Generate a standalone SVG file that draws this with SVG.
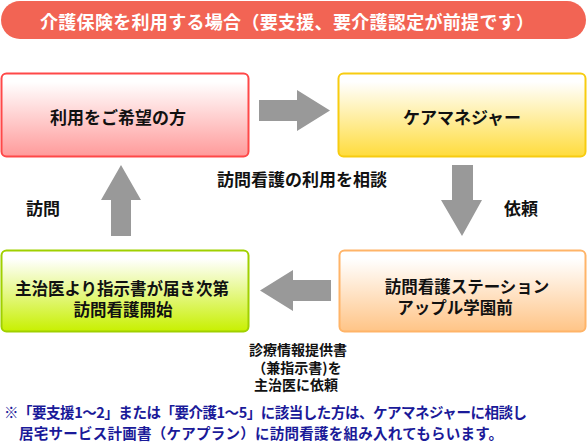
<svg xmlns="http://www.w3.org/2000/svg" width="588" height="444" viewBox="0 0 588 444">
<defs>
<linearGradient id="gPink" x1="0" y1="0" x2="0" y2="1"><stop offset="0.1" stop-color="#ffffff"/><stop offset="1" stop-color="#ff9a9a"/></linearGradient>
<linearGradient id="gYellow" x1="0" y1="0" x2="0" y2="1"><stop offset="0.1" stop-color="#ffffff"/><stop offset="1" stop-color="#ffdc3c"/></linearGradient>
<linearGradient id="gGreen" x1="0" y1="0" x2="0" y2="1"><stop offset="0.1" stop-color="#ffffff"/><stop offset="1" stop-color="#c8f000"/></linearGradient>
<linearGradient id="gOrange" x1="0" y1="0" x2="0" y2="1"><stop offset="0.1" stop-color="#ffffff"/><stop offset="1" stop-color="#ffc486"/></linearGradient>
</defs>
<style>
text{font-family:"Noto Sans CJK JP","Noto Sans CJK SC",sans-serif;font-weight:bold;dominant-baseline:central}
.t{fill:#111111;font-size:17px;text-anchor:middle}
.t2{fill:#111111;font-size:16.5px;text-anchor:middle}
.lbl{fill:#111111;font-size:17px;text-anchor:middle}
.small{fill:#111111;font-size:14px;text-anchor:middle}
.note{fill:#1a1a99;font-size:14.5px}
.arrow{fill:#999999}
.box{stroke-width:2}
</style>
<g id="title">
<rect x="1" y="1" width="585" height="38" rx="19" fill="#f26454"/>
<text x="287" y="21" fill="#ffffff" font-size="18" text-anchor="middle" textLength="494" lengthAdjust="spacing">介護保険を利用する場合（要支援、要介護認定が前提です）</text>
</g>
<g id="node-user">
<rect class="box" x="1.5" y="73.5" width="247" height="83" rx="5" fill="url(#gPink)" stroke="#ff4848"/>
<text class="t" x="118" y="116">利用をご希望の方</text>
</g>
<g id="node-caremanager">
<rect class="box" x="338.5" y="73.5" width="247" height="83" rx="5" fill="url(#gYellow)" stroke="#f7cc10"/>
<text class="t" x="462" y="116">ケアマネジャー</text>
</g>
<g id="node-station">
<rect class="box" x="339.5" y="250.5" width="246" height="81" rx="5" fill="url(#gOrange)" stroke="#ffb468"/>
<text class="t2" x="467" y="286">訪問看護ステーション</text>
<text class="t2" x="455" y="307">アップル学園前</text>
</g>
<g id="node-doctor">
<rect class="box" x="1.5" y="250.5" width="247" height="81" rx="5" fill="url(#gGreen)" stroke="#a0d000"/>
<text class="t2" x="122" y="288">主治医より指示書が届き次第</text>
<text class="t2" x="123" y="309">訪問看護開始</text>
</g>
<g id="connectors">
<polygon class="arrow" points="259,100 297,100 297,90 330,110.5 297,131 297,121 259,121"/>
<polygon class="arrow" points="452,165 473,165 473,200 482,200 462,236 441,200 452,200"/>
<polygon class="arrow" points="331,280 293,280 293,270 260,290.5 293,311 293,301 331,301"/>
<polygon class="arrow" points="111,236 131,236 131,200 141,200 121,165 101,200 111,200"/>
<text class="lbl" x="302" y="178">訪問看護の利用を相談</text>
<text class="lbl" x="43" y="207">訪問</text>
<text class="lbl" x="521" y="207">依頼</text>
<text class="small" x="298" y="349">診療情報提供書</text>
<text class="small" x="297" y="366.5">（兼指示書)を</text>
<text class="small" x="296" y="384">主治医に依頼</text>
</g>
<g id="footnote">
<text class="note" x="4" y="411" textLength="523" lengthAdjust="spacing">※「要支援1～2」または「要介護1～5」に該当した方は、ケアマネジャーに相談し</text>
<text class="note" x="19" y="432" textLength="484" lengthAdjust="spacing">居宅サービス計画書（ケアプラン）に訪問看護を組み入れてもらいます。</text>
</g>
</svg>
